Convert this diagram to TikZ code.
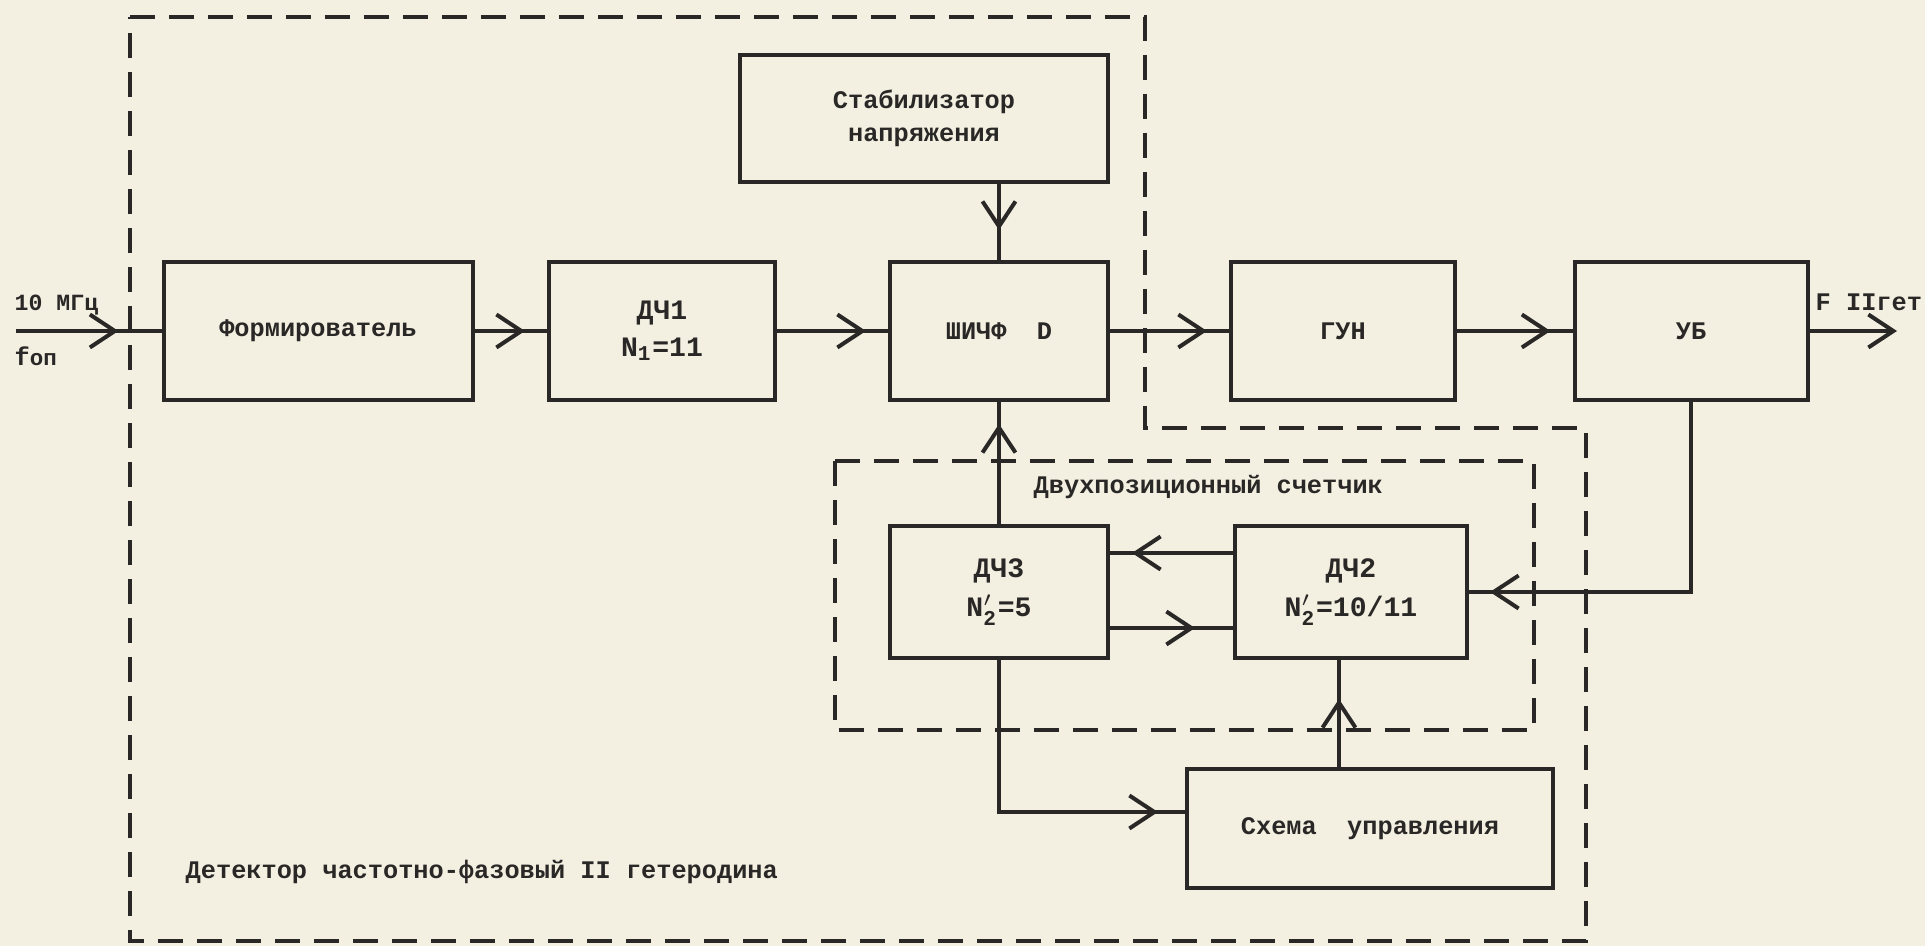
\documentclass[tikz,border=0pt]{standalone}
\usepackage{amsmath}
\usepackage{fontspec}
\setmainfont{Liberation Mono}
\usepackage{xcolor}
\usetikzlibrary{positioning,arrows.meta,decorations.markings}

\definecolor{paper}{RGB}{243,239,225}
\definecolor{ink}{RGB}{42,40,38}

\begin{document}
\begin{tikzpicture}[
    x=0.1mm, y=-0.1mm,
    every node/.style={text=ink},
    blk/.style={draw=ink, line width=0.4mm, align=center, inner sep=0pt, font=\fontsize{7.2}{9.4}\selectfont\bfseries},
    frame/.style={draw=ink, line width=0.35mm, dash pattern=on 2.5mm off 1.4mm},
    flow/.style={draw=ink, line width=0.4mm, postaction={decorate},
      decoration={markings, mark=at position -#1 with {\arrow{Straight Barb[length=2.5mm, width=3.3mm, line width=0.4mm]}}}},
    flow/.default=2.2mm,
    lbl/.style={font=\fontsize{7.2}{9}\selectfont\bfseries, inner sep=0pt, anchor=west}
  ]
    \fill[paper] (0,0) rectangle (1925,946);

    % dashed frames
    \draw[frame] (130,17) -- (1145,17) -- (1145,428) -- (1586,428) -- (1586,941) -- (130,941) -- cycle;
    \draw[frame] (835,461) rectangle (1534,730);

    % blocks
    \node[blk, minimum width=30.9mm, minimum height=13.8mm] (form) at (318,331) {Формирователь};
    \node[blk, minimum width=22.6mm, minimum height=13.8mm, font=\fontsize{8}{10.5}\selectfont\bfseries] (dch1) at (662,331) {ДЧ1\\N$_{\text{1}}$=11};
    \node[blk, minimum width=21.8mm, minimum height=13.8mm] (shichf) at (999,331) {ШИЧФ~~D};
    \node[blk, minimum width=36.8mm, minimum height=12.7mm] (stab) at (924,118.5) {Стабилизатор\\напряжения};
    \node[blk, minimum width=22.4mm, minimum height=13.8mm] (gun) at (1343,331) {ГУН};
    \node[blk, minimum width=23.3mm, minimum height=13.8mm] (ub) at (1691,331) {УБ};
    \node[blk, minimum width=21.8mm, minimum height=13.2mm, font=\fontsize{8}{11}\selectfont\bfseries] (dch3) at (999,592) {ДЧ3\\N$'_{\text{2}}$=5};
    \node[blk, minimum width=23.2mm, minimum height=13.2mm, font=\fontsize{8}{11}\selectfont\bfseries] (dch2) at (1351,592) {ДЧ2\\N$'_{\text{2}}$=10/11};
    \node[blk, minimum width=36.6mm, minimum height=11.9mm] (ctrl) at (1370,828.5) {Схема~~управления};

    % free ends
    \coordinate (in) at (16,331);
    \coordinate (out) at (1897,331);

    % labels
    \node[lbl, font=\fontsize{6.6}{8}\selectfont\bfseries] (fin) at (14,305) {10 МГц};
    \node[lbl] (fop) at (14,356) {f{\fontsize{6.4}{8}\selectfont оп}};
    \node[lbl] (fout) at (1815,302) {F IIгет};
    \node[lbl] (cnt) at (1033,487) {Двухпозиционный счетчик};
    \node[lbl] (det) at (185,872) {Детектор частотно-фазовый II гетеродина};

    % connectors
    \draw[flow=4.3mm] (in) -- (form.west);
    \draw[flow] (form) -- (dch1);
    \draw[flow] (dch1) -- (shichf);
    \draw[flow] (shichf) -- (gun);
    \draw[flow] (gun) -- (ub);
    \draw[draw=ink, line width=0.4mm, -{Straight Barb[length=2.5mm, width=3.3mm]}] (ub.east) -- (out);
    \draw[flow=3mm] (stab.south -| shichf) -- (shichf.north);
    \draw[flow] (dch3.north) -- (shichf.south);
    \draw[flow] ([yshift=3.9mm]dch2.west) -- ([yshift=3.9mm]dch3.east);
    \draw[flow=3.8mm] ([yshift=-3.6mm]dch3.east) -- ([yshift=-3.6mm]dch2.west);
    \draw[flow=2.1mm] (ub.south) |- (dch2.east);
    \draw[flow=2.7mm] (dch3.south) |- ([yshift=1.65mm]ctrl.west);
    \draw[flow=3.9mm] ([xshift=-1.2mm]dch2.south |- ctrl.north) -- ([xshift=-1.2mm]dch2.south);
  \end{tikzpicture}
\end{document}
